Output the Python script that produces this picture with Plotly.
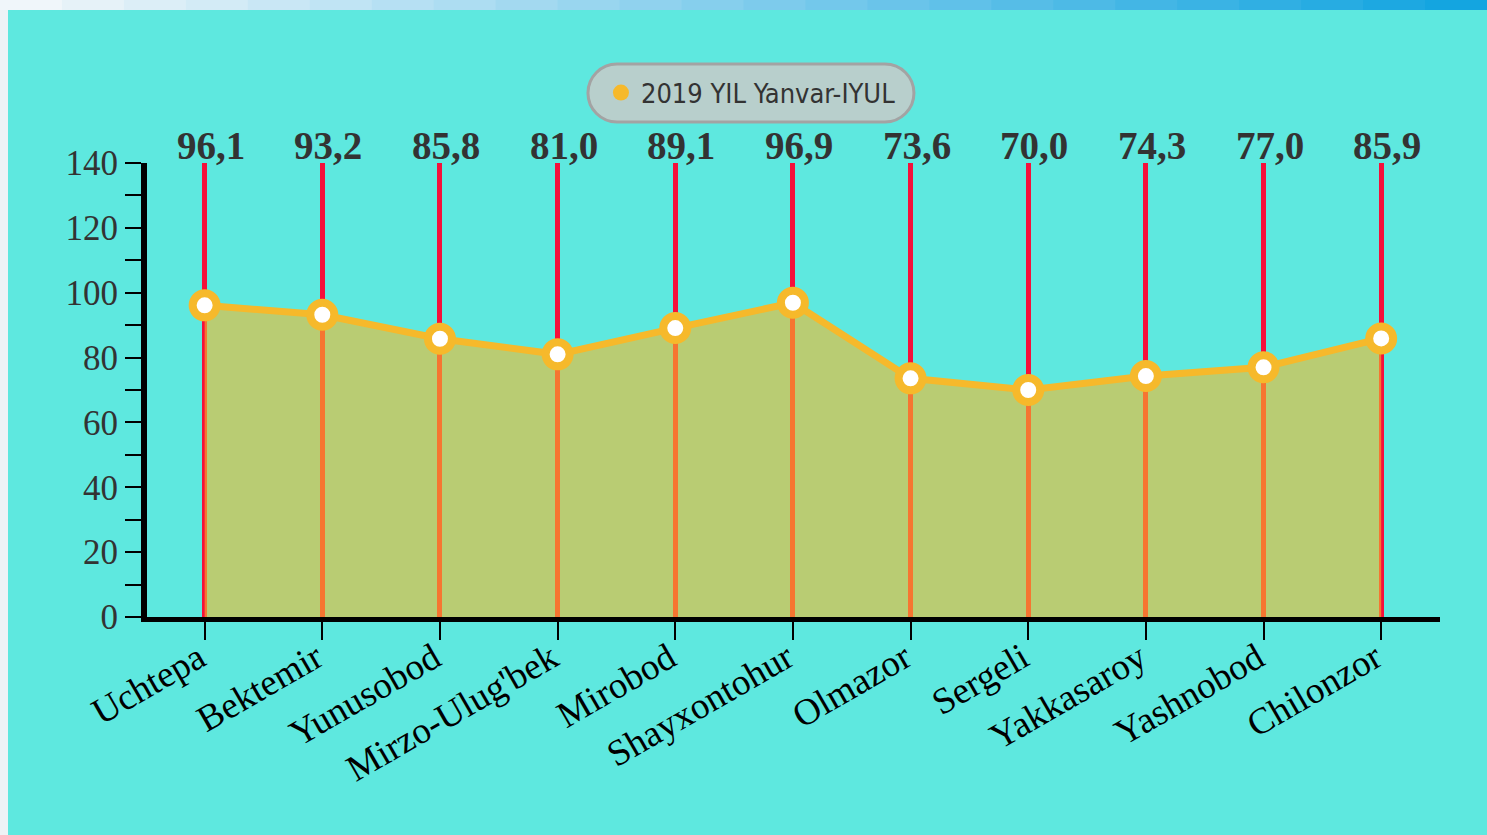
import plotly.graph_objects as go

districts = ["Uchtepa", "Bektemir", "Yunusobod", "Mirzo-Ulug'bek", "Mirobod",
             "Shayxontohur", "Olmazor", "Sergeli", "Yakkasaroy", "Yashnobod", "Chilonzor"]
values = [96.1, 93.2, 85.8, 81.0, 89.1, 96.9, 73.6, 70.0, 74.3, 77.0, 85.9]
series_name = "2019 YIL Yanvar-IYUL"
y_ticks = [0, 20, 40, 60, 80, 100, 120, 140]

CYAN = "#5ee8df"
YELLOW = "#f6b92b"
RED = "#f5103a"

fig = go.Figure()
fig.add_trace(go.Scatter(
    x=districts, y=values, mode="lines+markers",
    fill="tozeroy", fillcolor="rgba(246,185,43,0.6)",
    line=dict(color=YELLOW, width=7),
    marker=dict(size=24, color="white", line=dict(color=YELLOW, width=8)),
    showlegend=False, hoverinfo="x+y",
))
# legend entry (circle only)
fig.add_trace(go.Scatter(
    x=[None], y=[None], mode="markers", name=series_name,
    marker=dict(size=24, color=YELLOW), showlegend=True,
))

for d, v in zip(districts, values):
    fig.add_annotation(
        x=d, y=1.0, xref="x", yref="paper", yanchor="bottom",
        text="<b>" + f"{v:.1f}".replace(".", ",") + "</b>",
        showarrow=False, xshift=6, yshift=-6,
        font=dict(family="Liberation Serif, Times New Roman, serif", size=39, color="#333333"),
    )

# rounded legend pill
r = 29
hw = 163
k = 16
path = (f"M {-hw + r},{-r} L {hw - r},{-r} C {hw - r + k},{-r} {hw},{-k} {hw},0 "
        f"C {hw},{k} {hw - r + k},{r} {hw - r},{r} L {-hw + r},{r} "
        f"C {-hw + r - k},{r} {-hw},{k} {-hw},0 C {-hw},{-k} {-hw + r - k},{-r} {-hw + r},{-r} Z")
fig.add_shape(type="path", path=path, xsizemode="pixel", ysizemode="pixel",
              xanchor=0.4671, yanchor=1.1542, xref="paper", yref="paper",
              fillcolor="#b8cfcc", line=dict(color="#a3a3a3", width=3), layer="below")

# decorative top gradient strip and left strip
n = 24
c0 = (240, 246, 250)
c1 = (20, 165, 224)
x0p = -147 / 1293
x1p = (1487 - 147) / 1293
for i in range(n):
    t = i / (n - 1)
    col = tuple(int(c0[j] + (c1[j] - c0[j]) * t) for j in range(3))
    fig.add_shape(type="rect", xref="paper", yref="paper",
                  x0=x0p + (x1p - x0p) * i / n, x1=x0p + (x1p - x0p) * (i + 1) / n + 0.001,
                  y0=(617 - 10) / 454, y1=(617 + 2) / 454,
                  fillcolor=f"rgb{col}", line=dict(width=0), layer="below")
fig.add_shape(type="rect", xref="paper", yref="paper",
              x0=x0p - 0.01, x1=(8 - 147) / 1293, y0=-218 / 454 - 0.01, y1=(617 - 10) / 454,
              fillcolor="#eef3f6", line=dict(width=0), layer="below")

fig.update_layout(
    width=1487, height=835,
    margin=dict(l=147, r=47, t=163, b=218),
    paper_bgcolor=CYAN, plot_bgcolor=CYAN,
    legend=dict(x=0.4671, y=1.1542, xanchor="center", yanchor="middle",
                bgcolor="rgba(0,0,0,0)", orientation="h",
                font=dict(family="Liberation Sans Narrow, DejaVu Sans Condensed, sans-serif",
                          size=27, color="#333333"),
                itemclick=False),
    xaxis=dict(
        type="category", range=[-0.49, 10.5],
        showgrid=True, gridcolor=RED, gridwidth=5,
        showline=True, linecolor="black", linewidth=5,
        ticks="outside", ticklen=18, tickwidth=2, tickcolor="black",
        tickangle=-30, ticklabelstandoff=-18, ticklabelshift=-6,
        tickfont=dict(family="Liberation Serif, Times New Roman, serif", size=37, color="black"),
        zeroline=False,
    ),
    yaxis=dict(
        range=[0, 140], tickvals=y_ticks,
        showgrid=False, zeroline=False,
        showline=True, linecolor="black", linewidth=6,
        ticks="outside", ticklen=16, tickwidth=2, tickcolor="black",
        minor=dict(dtick=10, ticks="outside", ticklen=16, tickwidth=2, tickcolor="black", showgrid=False),
        tickfont=dict(family="Liberation Serif, Times New Roman, serif", size=35, color="#333333"),
    ),
)

fig.write_html("out.html", config={"displayModeBar": False},
               post_script="document.body.style.margin='0';document.body.style.overflow='hidden';")
